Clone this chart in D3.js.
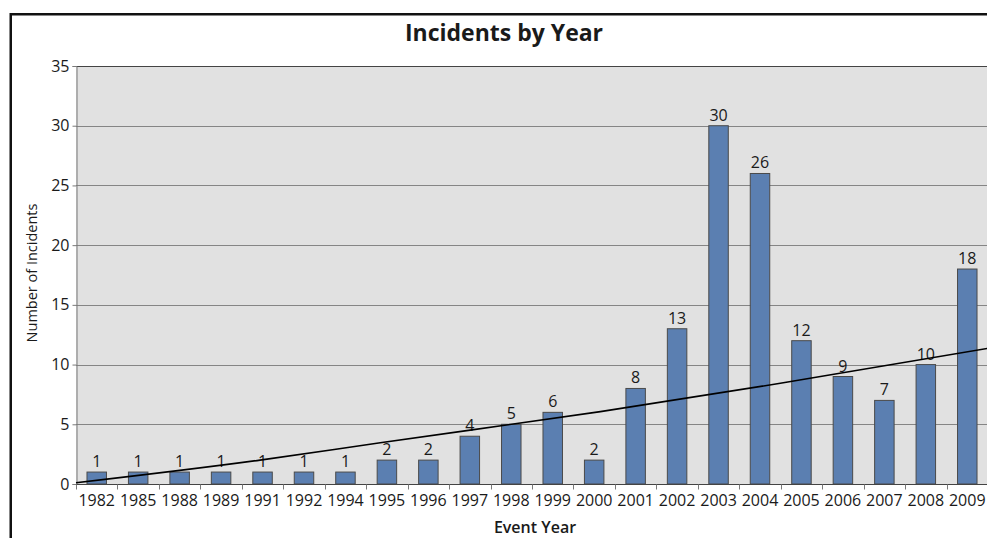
<!DOCTYPE html>
<html>
<head>
<meta charset="utf-8">
<script src="https://cdn.jsdelivr.net/npm/d3@7"></script>
<style>
  html, body { margin: 0; padding: 0; background: #ffffff; }
  svg { display: block; }
  text { font-family: "Open Sans", "DejaVu Sans", sans-serif; fill: #1a1a1a; }
</style>
</head>
<body>
<svg id="chart" width="987" height="538"></svg>
<script>
// Incidents per event year
const years = ["1982","1985","1988","1989","1991","1992","1994","1995","1996","1997","1998",
               "1999","2000","2001","2002","2003","2004","2005","2006","2007","2008","2009"];
const incidents = [1, 1, 1, 1, 1, 1, 1, 2, 2, 4, 5, 6, 2, 8, 13, 30, 26, 12, 9, 7, 10, 18];

// Trend line, given at positions along the category axis (0 = left edge, 22 = right edge)
const trendPos = [0, 4.44, 7.34, 12.65, 16.99, 22];
const trendVal = [0.1, 2.0, 3.46, 6.06, 8.43, 11.36];

const yTicks = [0, 5, 10, 15, 20, 25, 30, 35];

const svg = d3.select("#chart");
const plot = { left: 76, top: 66, right: 988, bottom: 484 };

// outer chart frame (runs off the right and bottom edges)
svg.append("rect")
  .attr("x", 10.75).attr("y", 14.25)
  .attr("width", 1100).attr("height", 600)
  .attr("fill", "#ffffff")
  .attr("stroke", "#111").attr("stroke-width", 2.5);

const x = d3.scaleBand().domain(years).range([plot.left, plot.right]).padding(0);
const xPos = d3.scaleLinear().domain([0, years.length]).range([plot.left, plot.right]);
const y = d3.scaleLinear().domain([0, 35]).range([plot.bottom, plot.top]);

// plot area background
svg.append("rect")
  .attr("x", plot.left).attr("y", plot.top)
  .attr("width", plot.right - plot.left).attr("height", plot.bottom - plot.top)
  .attr("fill", "#e1e1e1");

// horizontal gridlines
svg.append("g").selectAll("line")
  .data(yTicks.filter(d => d > 0 && d < 35))
  .join("line")
  .attr("x1", plot.left).attr("x2", plot.right)
  .attr("y1", d => Math.round(y(d)) + 0.5).attr("y2", d => Math.round(y(d)) + 0.5)
  .attr("stroke", "#858585").attr("stroke-width", 1);

// top border of plot area
svg.append("line")
  .attr("x1", plot.left).attr("x2", plot.right)
  .attr("y1", plot.top + 0.5).attr("y2", plot.top + 0.5)
  .attr("stroke", "#444").attr("stroke-width", 1.2);

// y axis
const yAxis = d3.axisLeft(y).tickValues(yTicks).tickSize(4).tickPadding(3);
const gy = svg.append("g").attr("transform", `translate(${plot.left + 0.5},0)`).call(yAxis);
gy.select(".domain").attr("stroke", "#7a7a7a");
gy.selectAll(".tick line").attr("stroke", "#7a7a7a");
gy.selectAll(".tick text").attr("font-size", 16).attr("fill", "#1a1a1a")
  .style("font-family", "'Open Sans', sans-serif");

// bars
const barW = x.bandwidth() * 0.47;
svg.append("g").selectAll("rect")
  .data(years.map((yr, i) => ({ yr, v: incidents[i] })))
  .join("rect")
  .attr("x", d => x(d.yr) + (x.bandwidth() - barW) / 2)
  .attr("y", d => y(d.v))
  .attr("width", barW)
  .attr("height", d => y(0) - y(d.v))
  .attr("fill", "#5b7fb1")
  .attr("stroke", "#4a4a4a").attr("stroke-width", 1);

// x axis
const gx = svg.append("g").attr("transform", `translate(0,${plot.bottom + 0.5})`);
gx.append("line")
  .attr("x1", plot.left).attr("x2", plot.right)
  .attr("stroke", "#444").attr("stroke-width", 1.2);
gx.selectAll("line.tk")
  .data(d3.range(0, years.length + 1))
  .join("line").attr("class", "tk")
  .attr("x1", i => Math.round(xPos(i)) + 0.5).attr("x2", i => Math.round(xPos(i)) + 0.5)
  .attr("y1", 0).attr("y2", 5)
  .attr("stroke", "#7a7a7a");
gx.selectAll("text")
  .data(years)
  .join("text")
  .attr("x", d => x(d) + x.bandwidth() / 2)
  .attr("y", 21)
  .attr("text-anchor", "middle")
  .attr("font-size", 16)
  .text(d => d);

// value labels
svg.append("g").selectAll("text")
  .data(years.map((yr, i) => ({ yr, v: incidents[i] })))
  .join("text")
  .attr("x", d => x(d.yr) + x.bandwidth() / 2)
  .attr("y", d => y(d.v) - 5)
  .attr("text-anchor", "middle")
  .attr("font-size", 16)
  .text(d => d.v);

// trend line
const trend = d3.line()
  .x((d, i) => xPos(trendPos[i]))
  .y(d => y(d))
  .curve(d3.curveMonotoneX);
svg.append("path")
  .attr("d", trend(trendVal))
  .attr("fill", "none")
  .attr("stroke", "#000").attr("stroke-width", 1.6);

// titles
svg.append("text")
  .attr("x", 504).attr("y", 41)
  .attr("text-anchor", "middle")
  .attr("font-size", 23).attr("font-weight", 700)
  .text("Incidents by Year");

svg.append("text")
  .attr("x", 535).attr("y", 533)
  .attr("text-anchor", "middle")
  .attr("font-size", 16).attr("font-weight", 600)
  .text("Event Year");

svg.append("text")
  .attr("transform", "translate(37,273) rotate(-90)")
  .attr("text-anchor", "middle")
  .attr("font-size", 14.5)
  .text("Number of Incidents");
</script>
</body>
</html>
